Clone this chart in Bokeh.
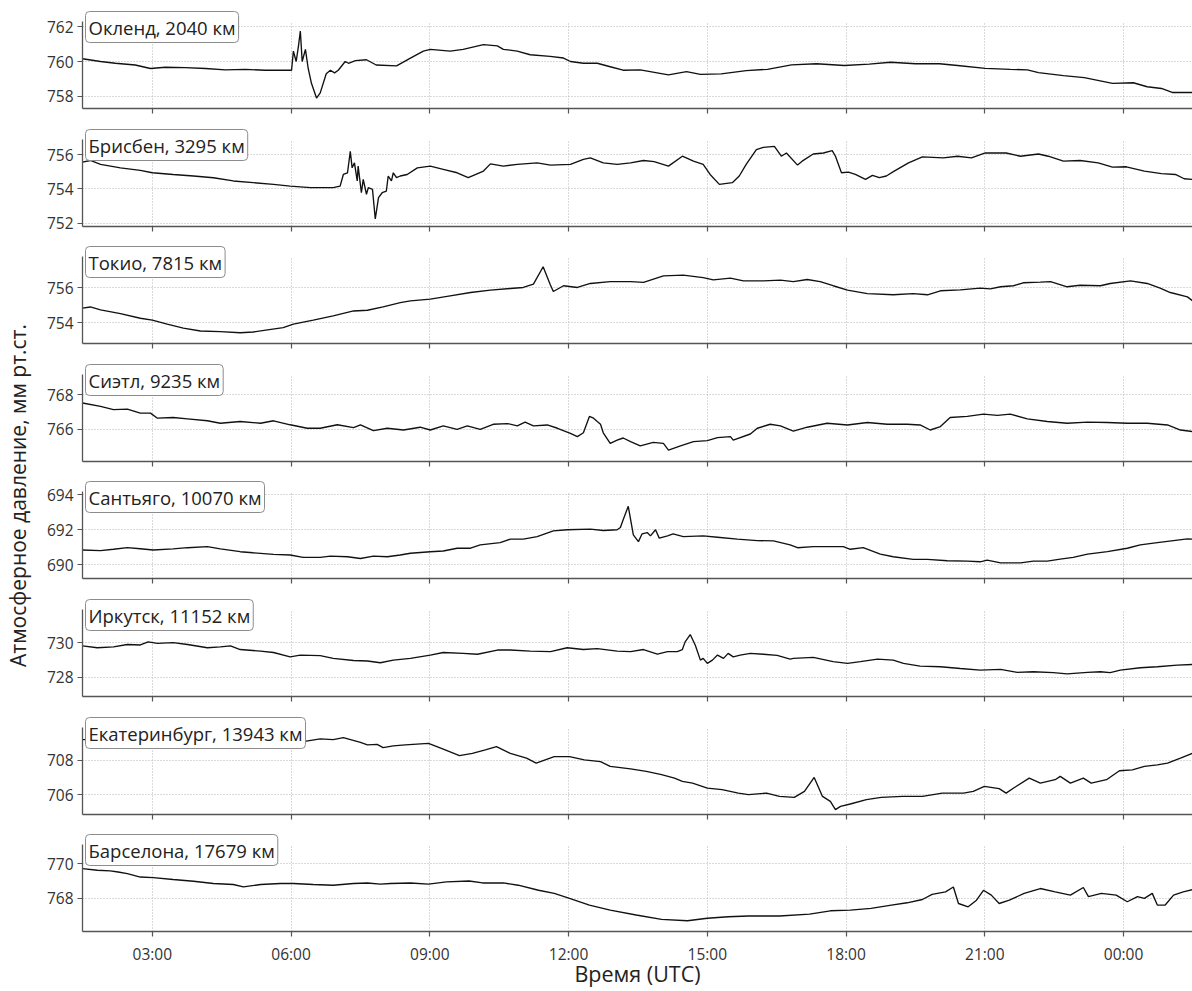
from bokeh.plotting import figure
from bokeh.layouts import column, row
from bokeh.models import Range1d, FixedTicker, SingleIntervalTicker, Label
from bokeh.embed import file_html
from bokeh.resources import INLINE

FONT = "Open Sans"

# ---------------- data (time in hours UTC from 00:00 of day 1; >24 = next day) ----------------
stations = ["Окленд, 2040 км", "Брисбен, 3295 км", "Токио, 7815 км", "Сиэтл, 9235 км",
            "Сантьяго, 10070 км", "Иркутск, 11152 км", "Екатеринбург, 13943 км", "Барселона, 17679 км"]

t_akl = [1.49, 1.88, 2.2, 2.63, 2.96, 3.28, 3.71, 4.15, 4.58, 5.01, 5.44, 5.88, 6.01,
         6.05, 6.11, 6.16, 6.2, 6.24, 6.31, 6.37, 6.44, 6.55, 6.63,
         6.76, 6.85, 6.94, 7.02, 7.17, 7.24, 7.39, 7.63, 7.84, 8.28,
         8.58, 8.86, 9.01, 9.44, 9.72, 10.16, 10.46, 10.59, 10.89, 11.17,
         11.6, 11.89, 12.04, 12.32, 12.62, 12.9, 13.18, 13.55, 14.16, 14.55,
         14.85, 15.3, 15.84, 16.3, 16.82, 17.36, 17.96, 18.5, 18.96, 19.5,
         20.02, 20.41, 21.01, 21.55, 21.92, 22.16, 22.7, 23.15, 23.76, 24.21,
         24.51, 24.82, 25.05, 25.49]
p_akl = [760.16, 760.0, 759.9, 759.8, 759.6, 759.67, 759.65, 759.6, 759.52, 759.55, 759.5, 759.5, 759.5,
         760.6, 760.0, 760.9, 761.75, 760.0, 760.7, 759.6, 758.75, 757.9, 758.2,
         759.3, 759.5, 759.35, 759.5, 760.0, 759.9, 760.05, 760.1, 759.8, 759.75,
         760.2, 760.6, 760.7, 760.6, 760.7, 760.97, 760.9, 760.7, 760.6, 760.39,
         760.3, 760.2, 760.0, 759.9, 759.9, 759.7, 759.5, 759.52, 759.23, 759.42,
         759.26, 759.29, 759.48, 759.55, 759.81, 759.87, 759.77, 759.85, 759.96, 759.87,
         759.87, 759.77, 759.61, 759.55, 759.52, 759.36, 759.19, 759.07, 758.74, 758.78,
         758.55, 758.45, 758.22, 758.22]

t_bne = [1.49, 1.66, 1.88, 2.31, 2.74, 3.0, 3.45, 3.89, 4.32, 4.75, 5.18, 5.62, 5.98, 6.42, 6.91,
         7.06, 7.13, 7.22, 7.28, 7.32, 7.37, 7.43, 7.45, 7.52, 7.56, 7.63, 7.67, 7.76, 7.82,
         7.89, 7.97, 8.06, 8.1, 8.17, 8.21, 8.28, 8.36, 8.51, 8.73, 9.01, 9.29, 9.59, 9.83,
         10.16, 10.31, 10.59, 10.89, 11.32, 11.61, 12.04, 12.32, 12.47, 12.75, 13.05, 13.34,
         13.62, 13.85, 14.16, 14.46, 14.7, 14.91, 15.06, 15.26, 15.54, 15.69, 15.84, 16.06,
         16.21, 16.45, 16.6, 16.71, 16.95, 17.05, 17.29, 17.51, 17.7, 17.77, 17.9, 18.05,
         18.2, 18.42, 18.57, 18.72, 18.87, 19.04, 19.35, 19.65, 20.1, 20.41, 20.71, 21.01,
         21.46, 21.77, 22.16, 22.37, 22.7, 23.06, 23.45, 23.76, 24.06, 24.45, 24.82, 25.12,
         25.31, 25.49]
p_bne = [755.57, 755.67, 755.44, 755.24, 755.09, 754.95, 754.85, 754.76, 754.66, 754.47, 754.37, 754.27, 754.17, 754.08, 754.08,
         754.17, 754.85, 754.95, 756.2, 755.24, 755.53, 754.47, 755.34, 753.78, 754.56, 753.69, 754.08, 753.98, 752.24,
         753.49, 753.78, 753.88, 754.76, 754.47, 754.95, 754.66, 754.76, 754.85, 755.24, 755.34, 755.15, 754.95, 754.66,
         755.05, 755.47, 755.34, 755.44, 755.53, 755.4, 755.44, 755.73, 755.82, 755.53, 755.44, 755.53,
         755.67, 755.6, 755.34, 755.92, 755.63, 755.44, 754.85, 754.27, 754.37, 754.76, 755.44, 756.31,
         756.44, 756.5, 755.92, 756.11, 755.4, 755.63, 756.05, 756.11, 756.25, 755.92, 754.95, 754.99,
         754.85, 754.56, 754.8, 754.66, 754.76, 755.05, 755.53, 755.88, 755.82, 755.92, 755.82, 756.11,
         756.11, 755.92, 756.05, 755.92, 755.63, 755.67, 755.53, 755.28, 755.3, 755.05, 754.9, 754.85,
         754.6, 754.56]

t_tyo = [1.49, 1.66, 1.88, 2.31, 2.74, 3.0, 3.32, 3.67, 4.04, 4.47, 4.9, 5.18, 5.49, 5.83, 6.05,
         6.48, 6.91, 7.35, 7.65, 7.99, 8.36, 8.58, 9.01, 9.44, 9.88, 10.31, 10.74, 11.02, 11.24,
         11.45, 11.6, 11.67, 11.89, 12.19, 12.47, 12.9, 13.34, 13.62, 14.05, 14.48, 14.91, 15.13,
         15.5, 15.78, 16.21, 16.58, 16.86, 17.16, 17.44, 17.72, 18.03, 18.46, 19.02, 19.45, 19.76,
         20.04, 20.47, 20.9, 21.12, 21.34, 21.62, 21.83, 22.2, 22.42, 22.78, 23.06, 23.5, 23.71,
         24.15, 24.51, 24.79, 25.01, 25.38, 25.49]
p_tyo = [754.83, 754.9, 754.73, 754.52, 754.25, 754.14, 753.91, 753.68, 753.52, 753.48, 753.42, 753.46, 753.58, 753.71, 753.91,
         754.14, 754.39, 754.67, 754.71, 754.9, 755.15, 755.25, 755.35, 755.54, 755.73, 755.87, 755.96, 756.02, 756.21,
         757.21, 756.21, 755.79, 756.12, 756.02, 756.25, 756.36, 756.36, 756.31, 756.69, 756.73, 756.59, 756.46,
         756.56, 756.4, 756.4, 756.44, 756.36, 756.48, 756.36, 756.12, 755.87, 755.67, 755.6, 755.67, 755.6,
         755.83, 755.88, 755.98, 755.94, 756.06, 756.12, 756.29, 756.33, 756.36, 756.06, 756.15, 756.12, 756.25,
         756.4, 756.25, 755.98, 755.73, 755.48, 755.25]

t_sea = [1.49, 1.88, 2.16, 2.46, 2.74, 2.96, 3.11, 3.45, 3.76, 4.19, 4.47, 4.9, 5.34, 5.62, 5.98,
         6.35, 6.63, 7.0, 7.35, 7.5, 7.78, 8.08, 8.43, 8.79, 9.01, 9.29, 9.59, 9.81, 10.09, 10.37,
         10.68, 10.89, 11.06, 11.24, 11.54, 11.76, 12.04, 12.19, 12.32, 12.45, 12.54, 12.62, 12.69,
         12.75, 12.9, 13.05, 13.18, 13.34, 13.55, 13.83, 14.05, 14.16, 14.42, 14.7, 15.0, 15.22,
         15.5, 15.56, 15.93, 16.08, 16.36, 16.58, 16.86, 17.16, 17.59, 18.03, 18.46, 18.89, 19.32,
         19.6, 19.82, 20.04, 20.25, 20.62, 20.97, 21.27, 21.55, 21.92, 22.35, 22.78, 23.22, 23.65,
         24.08, 24.51, 24.95, 25.23, 25.49]
p_sea = [767.51, 767.32, 767.13, 767.16, 766.93, 766.93, 766.64, 766.68, 766.6, 766.49, 766.35, 766.45, 766.35, 766.49, 766.26,
         766.06, 766.06, 766.26, 766.1, 766.26, 765.92, 766.06, 765.96, 766.12, 765.96, 766.2, 766.0, 766.2, 766.0, 766.29,
         766.33, 766.2, 766.41, 766.2, 766.25, 766.06, 765.77, 765.58, 765.8, 766.74, 766.64, 766.45, 766.29,
         765.8, 765.19, 765.38, 765.5, 765.29, 765.05, 765.25, 765.19, 764.8, 765.05, 765.29, 765.35, 765.52,
         765.58, 765.38, 765.73, 766.06, 766.29, 766.2, 765.9, 766.12, 766.35, 766.25, 766.39, 766.29, 766.29,
         766.25, 765.96, 766.16, 766.68, 766.74, 766.87, 766.8, 766.87, 766.6, 766.45, 766.35, 766.41, 766.39,
         766.35, 766.35, 766.25, 765.96, 765.87]

t_scl = [1.49, 1.88, 2.16, 2.46, 2.74, 3.02, 3.45, 3.76, 4.19, 4.47, 4.9, 5.18, 5.62, 5.98, 6.26,
         6.63, 6.85, 7.22, 7.5, 7.78, 8.08, 8.36, 8.58, 9.01, 9.29, 9.59, 9.88, 10.09, 10.52, 10.74,
         11.02, 11.32, 11.67, 11.97, 12.47, 12.75, 13.05, 13.12, 13.18, 13.29, 13.4, 13.51, 13.59,
         13.7, 13.77, 13.88, 13.96, 14.14, 14.26, 14.48, 14.91, 15.22, 15.65, 16.08, 16.43, 16.79,
         16.95, 17.29, 17.59, 17.94, 18.09, 18.37, 18.74, 19.02, 19.45, 19.76, 20.19, 20.62, 20.9,
         21.05, 21.34, 21.77, 22.05, 22.35, 22.63, 22.91, 23.22, 23.65, 24.08, 24.36, 24.73, 25.08,
         25.38, 25.49]
p_scl = [690.84, 690.8, 690.88, 690.97, 690.91, 690.84, 690.9, 690.97, 691.03, 690.9, 690.74, 690.68, 690.59, 690.55, 690.41,
         690.41, 690.49, 690.45, 690.35, 690.49, 690.45, 690.55, 690.65, 690.74, 690.78, 690.94, 690.94, 691.13, 691.26, 691.46,
         691.46, 691.61, 691.94, 692.0, 692.04, 691.96, 692.0, 692.13, 692.58, 693.35, 691.71, 691.32, 691.77,
         691.84, 691.65, 692.0, 691.52, 691.65, 691.77, 691.61, 691.65, 691.57, 691.46, 691.38, 691.36, 691.13,
         690.97, 691.03, 691.03, 691.03, 690.88, 690.97, 690.6, 690.45, 690.3, 690.3, 690.22, 690.2, 690.16,
         690.26, 690.1, 690.1, 690.2, 690.2, 690.31, 690.41, 690.6, 690.74, 690.94, 691.13, 691.26, 691.38,
         691.48, 691.46]

t_ikt = [1.49, 1.81, 2.16, 2.46, 2.74, 2.91, 3.11, 3.45, 3.76, 4.19, 4.47, 4.69, 4.9, 5.34, 5.62,
         5.98, 6.2, 6.63, 6.91, 7.35, 7.65, 7.93, 8.21, 8.58, 9.01, 9.29, 9.72, 10.03, 10.46, 10.74,
         11.17, 11.61, 11.97, 12.32, 12.62, 13.05, 13.34, 13.62, 13.92, 14.14, 14.35, 14.46, 14.52,
         14.63, 14.74, 14.85, 14.91, 15.0, 15.11, 15.22, 15.35, 15.45, 15.56, 15.71, 15.93, 16.21,
         16.51, 16.79, 16.86, 17.29, 17.72, 18.03, 18.31, 18.68, 19.02, 19.24, 19.6, 20.04, 20.47,
         20.9, 21.34, 21.7, 22.05, 22.48, 22.78, 23.22, 23.5, 23.71, 23.93, 24.36, 24.73, 25.16, 25.49]
p_ikt = [729.81, 729.7, 729.75, 729.89, 729.86, 730.04, 729.95, 730.0, 729.89, 729.7, 729.75, 729.81, 729.6, 729.51, 729.43,
         729.18, 729.28, 729.25, 729.09, 728.97, 728.94, 728.84, 728.99, 729.09, 729.28, 729.43, 729.38, 729.33, 729.57, 729.57,
         729.51, 729.48, 729.7, 729.6, 729.65, 729.51, 729.48, 729.6, 729.34, 729.48, 729.48, 729.6, 730.04,
         730.46, 729.85, 728.99, 729.09, 728.8, 728.99, 729.28, 729.09, 729.38, 729.18, 729.28, 729.38, 729.33,
         729.26, 729.05, 729.09, 729.15, 728.9, 728.8, 728.9, 729.05, 728.99, 728.8, 728.65, 728.61, 728.51,
         728.42, 728.46, 728.29, 728.32, 728.27, 728.2, 728.29, 728.32, 728.27, 728.42, 728.55, 728.61, 728.7, 728.74]

t_svx = [1.49, 2.31, 3.17, 4.04, 4.9, 5.77, 6.26, 6.63, 6.91, 7.13, 7.5, 7.65, 7.86, 7.99, 8.21,
         8.47, 8.97, 9.25, 9.64, 9.92, 10.2, 10.44, 10.74, 11.09, 11.3, 11.69, 12.02, 12.34, 12.69,
         12.9, 13.34, 13.68, 14.01, 14.29, 14.46, 14.68, 15.0, 15.32, 15.67, 15.89, 16.28, 16.56,
         16.88, 17.1, 17.31, 17.49, 17.66, 17.77, 17.88, 18.09, 18.44, 18.76, 19.22, 19.65, 20.08,
         20.54, 20.75, 20.99, 21.31, 21.46, 21.64, 21.96, 22.2, 22.52, 22.63, 22.85, 23.13, 23.3,
         23.63, 23.91, 24.19, 24.45, 24.73, 24.95, 25.23, 25.49]
p_svx = [709.2, 709.25, 709.15, 709.2, 709.1, 709.05, 709.08, 709.24, 709.2, 709.31, 709.04, 708.89, 708.92, 708.73, 708.83,
         708.89, 708.98, 708.69, 708.27, 708.4, 708.6, 708.79, 708.4, 708.12, 707.83, 708.21, 708.21, 708.02, 707.92,
         707.64, 707.5, 707.35, 707.16, 706.96, 706.77, 706.67, 706.38, 706.29, 706.09, 706.0, 706.09, 705.9,
         705.84, 706.19, 707.0, 705.9, 705.61, 705.13, 705.32, 705.46, 705.71, 705.84, 705.9, 705.9, 706.09,
         706.09, 706.19, 706.48, 706.35, 706.09, 706.42, 706.96, 706.67, 706.87, 707.06, 706.67, 706.96, 706.67,
         706.87, 707.39, 707.44, 707.64, 707.73, 707.83, 708.12, 708.4]

t_bcn = [1.49, 1.81, 2.09, 2.26, 2.46, 2.74, 3.02, 3.45, 3.89, 4.32, 4.75, 4.97, 5.34, 5.77, 6.05,
         6.48, 6.91, 7.35, 7.65, 7.93, 8.15, 8.58, 8.97, 9.36, 9.85, 10.14, 10.59, 10.91, 11.35,
         11.69, 12.02, 12.45, 12.9, 13.46, 14.01, 14.57, 15.0, 15.45, 15.89, 16.56, 17.21, 17.66,
         18.09, 18.54, 18.98, 19.32, 19.65, 19.86, 20.15, 20.32, 20.43, 20.64, 20.82, 20.97, 21.14,
         21.31, 21.53, 21.85, 22.2, 22.52, 22.85, 23.13, 23.24, 23.52, 23.84, 24.08, 24.3, 24.45,
         24.62, 24.73, 24.9, 25.08, 25.29, 25.49]
p_bcn = [769.71, 769.62, 769.58, 769.52, 769.43, 769.23, 769.2, 769.09, 768.99, 768.86, 768.8, 768.66, 768.8, 768.86, 768.86,
         768.8, 768.76, 768.86, 768.89, 768.82, 768.86, 768.89, 768.82, 768.95, 769.0, 768.89, 768.89, 768.76, 768.47,
         768.29, 768.0, 767.62, 767.33, 767.05, 766.8, 766.72, 766.86, 766.95, 766.99, 766.99, 767.1, 767.29,
         767.33, 767.43, 767.62, 767.75, 767.94, 768.23, 768.38, 768.66, 767.71, 767.52, 767.9, 768.47, 768.19,
         767.71, 767.9, 768.29, 768.57, 768.38, 768.19, 768.63, 768.1, 768.29, 768.19, 767.81, 768.1, 768.0,
         768.29, 767.62, 767.62, 768.19, 768.38, 768.51]

times = [t_akl, t_bne, t_tyo, t_sea, t_scl, t_ikt, t_svx, t_bcn]
pressures = [p_akl, p_bne, p_tyo, p_sea, p_scl, p_ikt, p_svx, p_bcn]

y_limits = [(757.3, 762.3), (751.8, 756.9), (752.8, 757.8), (764.15, 769.15),
            (689.2, 694.2), (726.9, 731.9), (704.85, 709.9), (766.1, 771.1)]

x_tick_hours = [3, 6, 9, 12, 15, 18, 21, 24]
x_tick_labels = ["03:00", "06:00", "09:00", "12:00", "15:00", "18:00", "21:00", "00:00"]
T_START, T_END = 1.49, 25.49

y_axis_title = "Атмосферное давление, мм рт.ст."
x_axis_title = "Время (UTC)"

# ---------------- layout ----------------
TOTAL_W = 1192
TOTAL_H = 990
LABEL_W = 40
AXIS_X = 82            # left edge of the plotting frames
FRAME_H = 87           # height of the bounded (visible) axis area
HEAD = 11              # extra px above the bounded area, room for the station box
tops = [10, 12, 11, 12, 11, 12, 12, 11]
BOTTOM = 8
heights = [tops[i] + FRAME_H + HEAD + BOTTOM for i in range(7)]
heights.append(TOTAL_H - sum(heights))

AX_COLOR = "#555555"
TXT_COLOR = "#333333"
GRID_COLOR = "#b5b5b5"

figs = []
for i in range(8):
    last = (i == 7)
    lo, hi = y_limits[i]
    head = HEAD * (hi - lo) / FRAME_H
    p = figure(width=TOTAL_W - LABEL_W, height=heights[i],
               x_range=Range1d(T_START, T_END), y_range=Range1d(lo, hi + head),
               toolbar_location=None, output_backend="svg",
               min_border_left=AXIS_X - LABEL_W, min_border_right=0,
               min_border_top=tops[i],
               min_border_bottom=heights[i] - tops[i] - FRAME_H - HEAD if last else BOTTOM)
    p.outline_line_color = None
    p.background_fill_color = "white"
    p.border_fill_color = "white"

    p.line(times[i], pressures[i], line_color="#111111", line_width=1.35)

    # axes
    p.xaxis.ticker = FixedTicker(ticks=x_tick_hours)
    p.yaxis.ticker = SingleIntervalTicker(interval=2, num_minor_ticks=0)
    p.yaxis.bounds = (lo, hi)
    for ax in (p.xaxis[0], p.yaxis[0]):
        ax.axis_line_color = AX_COLOR
        ax.axis_line_width = 1.3
        ax.major_tick_line_color = AX_COLOR
        ax.major_tick_line_width = 1.2
        ax.major_tick_in = 0
        ax.major_tick_out = 5
        ax.minor_tick_line_color = None
        ax.major_label_text_font = FONT
        ax.major_label_text_font_size = "15.5px"
        ax.major_label_text_color = TXT_COLOR
        ax.major_label_standoff = 4
    if last:
        p.xaxis.major_label_overrides = {h: s for h, s in zip(x_tick_hours, x_tick_labels)}
        p.xaxis.major_label_standoff = 6
        p.xaxis.axis_label = x_axis_title
        p.xaxis.axis_label_text_font = FONT
        p.xaxis.axis_label_text_font_size = "21.5px"
        p.xaxis.axis_label_text_font_style = "normal"
        p.xaxis.axis_label_text_color = "#222222"
        p.xaxis.axis_label_standoff = -9
    else:
        p.xaxis.major_label_overrides = {h: "" for h in x_tick_hours}
        p.xaxis.major_label_text_font_size = "0px"
        p.xaxis.major_label_standoff = 0

    p.grid.grid_line_color = GRID_COLOR
    p.grid.grid_line_dash = "1 2"
    p.grid.grid_line_width = 1
    p.ygrid.bounds = (lo, hi)
    xg = p.xgrid[0]
    if hasattr(xg, "cross_bounds"):
        xg.cross_bounds = (lo, hi)

    lbl = Label(x=T_START, y=hi, x_units="data", y_units="data",
                x_offset=3, y_offset=10, anchor="top_left",
                text=stations[i], text_font=FONT, text_font_size="18.5px",
                text_color="#222222",
                background_fill_color="white", background_fill_alpha=1.0,
                border_line_color="#8c8c8c", border_line_width=1,
                border_radius=4, padding=3)
    p.add_layout(lbl)
    figs.append(p)

# y-axis title column
lab = figure(width=LABEL_W, height=TOTAL_H, x_range=Range1d(0, 1), y_range=Range1d(0, 1),
             toolbar_location=None, output_backend="svg", min_border=0,
             x_axis_location=None)
lab.grid.visible = False
lab.outline_line_color = None
lab.yaxis.ticker = FixedTicker(ticks=[])
lab.yaxis.axis_line_color = None
lab.yaxis.major_tick_line_color = None
lab.yaxis.minor_tick_line_color = None
lab.yaxis.axis_label = y_axis_title
lab.yaxis.axis_label_text_font = FONT
lab.yaxis.axis_label_text_font_size = "21px"
lab.yaxis.axis_label_text_font_style = "normal"
lab.yaxis.axis_label_text_color = "#222222"
lab.yaxis.axis_label_standoff = 0

layout = row(lab, column(*figs))

open("out.html", "w").write(file_html(layout, INLINE))
